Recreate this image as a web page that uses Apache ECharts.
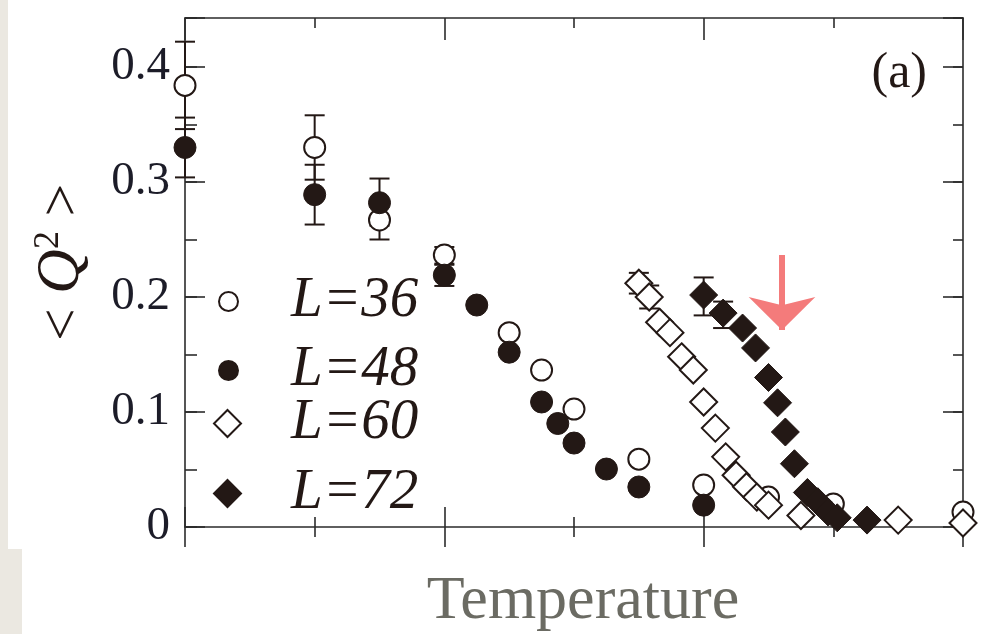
<!DOCTYPE html>
<html><head><meta charset="utf-8">
<script src="https://cdn.jsdelivr.net/npm/echarts@6/dist/echarts.min.js"></script>
<style>html,body{margin:0;padding:0;background:#fff}#c{width:990px;height:634px}</style>
</head><body><div id="c"></div>
<script>
// ---- data (x in arbitrary temperature units) ----
const x36 = [0, 1, 1.5, 2, 2.5, 2.75, 3, 3.5, 4, 4.5, 5, 6];
const y36 = [0.384, 0.330, 0.267, 0.2365, 0.169, 0.1365, 0.1026, 0.059, 0.0365, 0.026, 0.020, 0.013];
const x48 = [0, 1, 1.5, 2, 2.25, 2.5, 2.75, 2.875, 3, 3.25, 3.5, 4];
const y48 = [0.330, 0.289, 0.282, 0.219, 0.193, 0.152, 0.1087, 0.090, 0.073, 0.0504, 0.0348, 0.019];
const x60 = [3.5, 3.58, 3.66, 3.74, 3.83, 3.92, 4.0, 4.09, 4.17, 4.25, 4.33, 4.41, 4.5, 4.75, 5.5, 6];
const y60 = [0.212, 0.200, 0.178, 0.169, 0.148, 0.1365, 0.1087, 0.086, 0.061, 0.045, 0.035, 0.026, 0.019, 0.010, 0.006, 0.0035];
const x72 = [4.0, 4.15, 4.3, 4.4, 4.5, 4.57, 4.63, 4.70, 4.80, 4.88, 4.96, 5.03, 5.26];
const y72 = [0.2017, 0.186, 0.173, 0.1557, 0.130, 0.108, 0.0826, 0.055, 0.030, 0.022, 0.013, 0.008, 0.006];
// error bars: [x, low, high]
const err36 = [[0, 0.346, 0.422], [1, 0.302, 0.358], [1.5, 0.250, 0.282], [2, 0.229, 0.2435]];
const err48 = [[0, 0.304, 0.356], [1, 0.263, 0.315], [1.5, 0.262, 0.303], [2, 0.2096, 0.228]];
const err60 = [[3.5, 0.203, 0.221], [3.58, 0.190, 0.210]];
const err72 = [[4.0, 0.184, 0.217], [4.15, 0.173, 0.196]];
const seriesNames = ['L=36', 'L=48', 'L=60', 'L=72'];
const yTicks = [0, 0.1, 0.2, 0.3, 0.4];
const arrowPoints = [[4.604, 0.2365], [4.604, 0.1713]];
const panelLabel = '(a)';
const xTitle = 'Temperature';

const INK = '#231815';
const SERIF = "'Liberation Serif', 'DejaVu Serif', serif";
const zip = (xs, ys) => xs.map((x, i) => [x, ys[i]]);

function errSeries(name, data) {
  return {
    type: 'custom', name: name, xAxisIndex: 0, yAxisIndex: 0, data: data, z: 1, silent: true,
    encode: { x: 0, y: [1, 2] },
    renderItem(params, api) {
      const x = api.value(0), lo = api.value(1), hi = api.value(2);
      const p1 = api.coord([x, lo]), p2 = api.coord([x, hi]);
      const w = 10;
      const st = { stroke: INK, lineWidth: 2 };
      return { type: 'group', children: [
        { type: 'line', shape: { x1: p1[0], y1: p1[1], x2: p2[0], y2: p2[1] }, style: st },
        { type: 'line', shape: { x1: p1[0] - w, y1: p1[1], x2: p1[0] + w, y2: p1[1] }, style: st },
        { type: 'line', shape: { x1: p2[0] - w, y1: p2[1], x2: p2[0] + w, y2: p2[1] }, style: st }
      ]};
    }
  };
}

const lineSt = { color: '#2b2b2b', width: 1.6 };
const baseX = { type: 'value', min: 0, max: 6, interval: 2, gridIndex: 0,
  axisLabel: { show: false }, splitLine: { show: false }, minorSplitLine: { show: false } };
const baseY = { type: 'value', min: 0, max: 0.4426, gridIndex: 0,
  splitLine: { show: false }, minorSplitLine: { show: false } };

const chart = echarts.init(document.getElementById('c'), null, { renderer: 'canvas' });
const openStyle = { color: '#ffffff', borderColor: INK, borderWidth: 2, opacity: 1 };
const fillStyle = { color: INK, borderColor: INK, borderWidth: 1, opacity: 1 };

chart.setOption({
  backgroundColor: '#ffffff',
  animation: false,
  grid: { left: 185, right: 27, top: 18, bottom: 107, outerBoundsMode: 'none', containLabel: false },
  title: { text: panelLabel, right: 58, top: 44,
    textStyle: { fontFamily: SERIF, fontWeight: 'normal', fontSize: 50, color: INK } },
  graphic: [
    { type: 'rect', left: 0, top: 0, z: -10, shape: { width: 8, height: 634 }, style: { fill: '#ebe8e1' } },
    { type: 'rect', left: 0, top: 549, z: -10, shape: { width: 22, height: 85 }, style: { fill: '#ebe8e1' } }
  ],
  legend: [
    { orient: 'vertical', left: 213, top: 268, itemWidth: 19, itemHeight: 19, itemGap: 12,
      data: [seriesNames[0], seriesNames[1]], selectedMode: false,
      formatter: n => '{a|' + n + '}',
      textStyle: { rich: { a: { fontFamily: SERIF, fontStyle: 'italic', fontSize: 57, lineHeight: 50,
        color: INK, padding: [0, 0, 0, 48] } } } },
    { orient: 'vertical', left: 208, top: 390, itemWidth: 27, itemHeight: 27, itemGap: 13,
      data: [seriesNames[2], seriesNames[3]], selectedMode: false,
      formatter: n => '{a|' + n + '}',
      textStyle: { rich: { a: { fontFamily: SERIF, fontStyle: 'italic', fontSize: 57, lineHeight: 50,
        color: INK, padding: [0, 0, 0, 45] } } } }
  ],
  xAxis: [
    Object.assign({}, baseX, { position: 'bottom',
      axisLine: { show: true, onZero: false, lineStyle: lineSt },
      axisTick: { show: true, inside: true, length: 20, lineStyle: lineSt },
      minorTick: { show: true, splitNumber: 2, length: 10, lineStyle: lineSt },
      name: xTitle, nameLocation: 'middle', nameGap: 44, nameMoveOverlap: false,
      nameTextStyle: { fontFamily: SERIF, fontSize: 62, color: '#6b6b63', padding: [0, 0, 0, 18] } }),
    Object.assign({}, baseX, { position: 'bottom',
      axisLine: { show: false, onZero: false },
      axisTick: { show: true, inside: false, length: 20, lineStyle: lineSt },
      minorTick: { show: true, splitNumber: 2, length: 10, lineStyle: lineSt } }),
    Object.assign({}, baseX, { position: 'top',
      axisLine: { show: true, onZero: false, lineStyle: lineSt },
      axisTick: { show: true, inside: true, length: 22, lineStyle: lineSt },
      minorTick: { show: true, splitNumber: 2, length: 10, lineStyle: lineSt } })
  ],
  yAxis: [
    Object.assign({}, baseY, { position: 'left', interval: 0.1,
      axisLine: { show: true, onZero: false, lineStyle: lineSt },
      axisTick: { show: true, inside: true, length: 20, lineStyle: lineSt },
      axisLabel: { show: true, margin: 15, fontFamily: SERIF, fontSize: 47, color: '#1c1c28',
        formatter: v => {
          const hit = yTicks.find(t => Math.abs(t - v) < 1e-6);
          return hit === undefined ? '' : (hit === 0 ? '0' : hit.toFixed(1));
        } },
      name: '{a|< }{q|Q}{s|2}{a| >}', nameLocation: 'middle', nameRotate: 90, nameGap: 92,
      nameMoveOverlap: false,
      nameTextStyle: { padding: [0, 0, 0, 20], rich: {
        a: { fontFamily: SERIF, fontSize: 58, color: INK, lineHeight: 62, verticalAlign: 'bottom' },
        q: { fontFamily: SERIF, fontStyle: 'italic', fontSize: 62, color: INK, lineHeight: 62, verticalAlign: 'bottom' },
        s: { fontFamily: SERIF, fontSize: 36, color: INK, lineHeight: 36, verticalAlign: 'top' } } } }),
    Object.assign({}, baseY, { position: 'left', interval: 0.05,
      axisLine: { show: false, onZero: false },
      axisTick: { show: true, inside: true, length: 12, lineStyle: lineSt },
      axisLabel: { show: false } }),
    Object.assign({}, baseY, { position: 'right', interval: 0.1,
      axisLine: { show: true, onZero: false, lineStyle: lineSt },
      axisTick: { show: true, inside: true, length: 20, lineStyle: lineSt },
      axisLabel: { show: false } }),
    Object.assign({}, baseY, { position: 'right', interval: 0.05,
      axisLine: { show: false, onZero: false },
      axisTick: { show: true, inside: true, length: 10, lineStyle: lineSt },
      axisLabel: { show: false } })
  ],
  series: [
    errSeries('err36', err36), errSeries('err48', err48), errSeries('err60', err60), errSeries('err72', err72),
    { type: 'scatter', name: seriesNames[0], data: zip(x36, y36), symbol: 'circle', symbolSize: 21,
      itemStyle: openStyle, z: 3 },
    { type: 'scatter', name: seriesNames[1], data: zip(x48, y48), symbol: 'circle', symbolSize: 22,
      itemStyle: fillStyle, z: 4 },
    { type: 'scatter', name: seriesNames[2], data: zip(x60, y60), symbol: 'diamond', symbolSize: 27,
      itemStyle: openStyle, z: 3 },
    { type: 'scatter', name: seriesNames[3], data: zip(x72, y72), symbol: 'diamond', symbolSize: 28,
      itemStyle: fillStyle, z: 4,
      markLine: { silent: true, symbol: ['none', 'arrow'], symbolSize: [50, 33], animation: false,
        lineStyle: { color: '#f47b7b', width: 6, type: 'solid' }, label: { show: false },
        emphasis: { disabled: true },
        data: [[{ coord: arrowPoints[0] }, { coord: arrowPoints[1] }]] } }
  ]
});
</script>
</body></html>
